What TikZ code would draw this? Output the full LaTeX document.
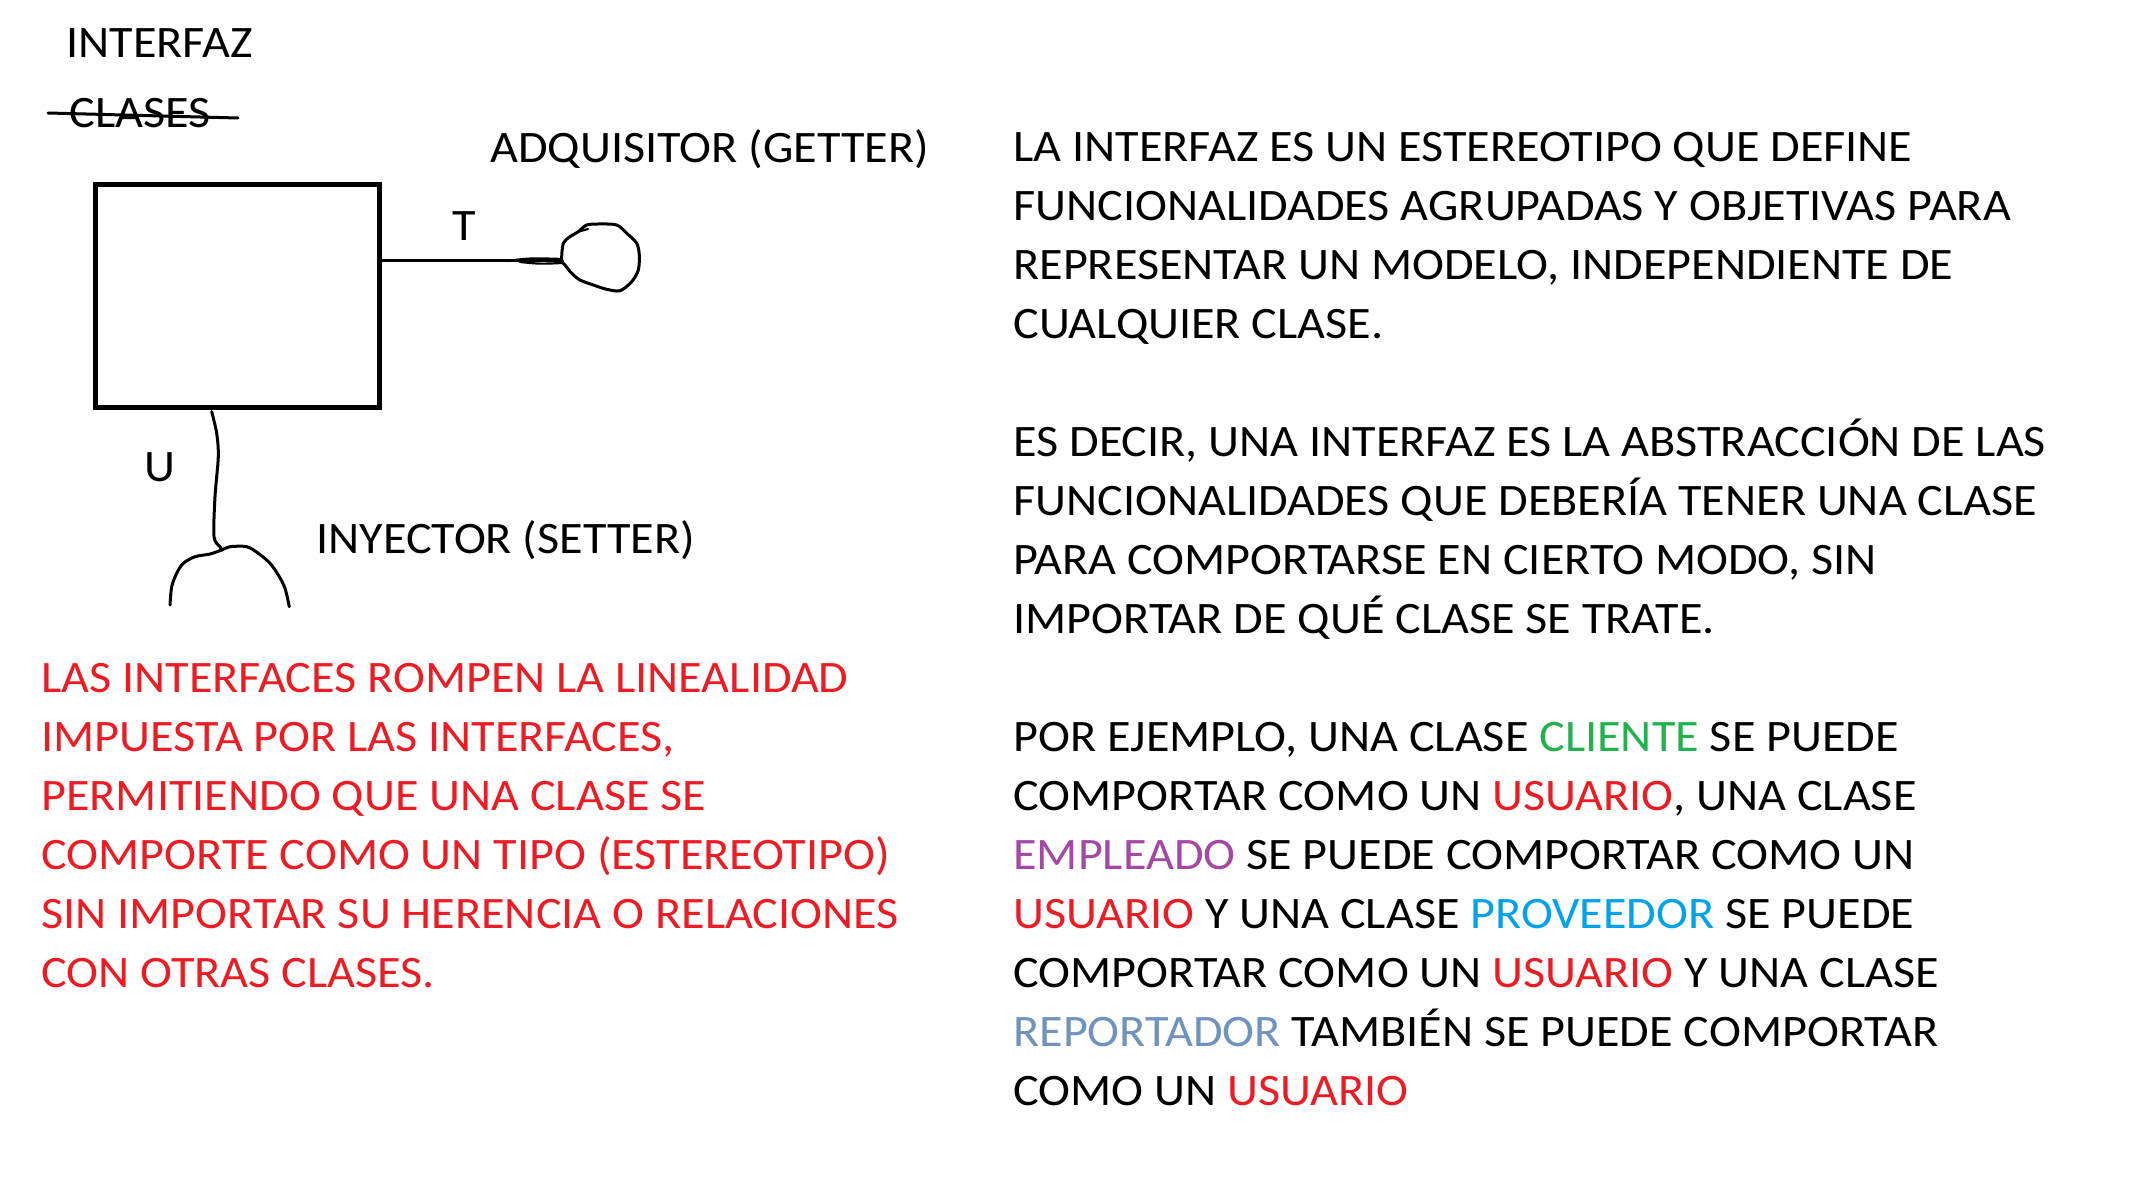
\documentclass[tikz,border=0pt]{standalone}
\usepackage{fontspec}
\setmainfont{Carlito}[FakeStretch=1.07]
\definecolor{pred}{RGB}{237,28,36}
\definecolor{pgreen}{RGB}{34,177,76}
\definecolor{ppurple}{RGB}{163,73,164}
\definecolor{pblue}{RGB}{0,162,232}
\definecolor{pgray}{RGB}{112,146,190}
\begin{document}
\begin{tikzpicture}[x=0.5pt,y=-0.5pt,
  txt/.style={anchor=base west,inner sep=0pt,font=\fontsize{22.5pt}{29.5pt}\selectfont},
  rtxt/.style={txt,text=pred},
  ink/.style={line width=1.5pt,line cap=round,line join=round},
  boxstyle/.style={draw,line width=2.5pt,inner sep=0pt,minimum width=142pt,minimum height=111.5pt}]
\useasboundingbox[fill=white] (0,0) rectangle (2153,1192);
% left labels
\node[txt] (interfaz) at (66,58) {INTERFAZ};
\node[txt] (clases) at (69,128) {CLASES};
\draw[ink] (48,113) -- (238,118);
\node[txt] (getterlbl) at (490,163) {ADQUISITOR (GETTER)};
\node[txt] (setterlbl) at (316,553) {INYECTOR (SETTER)};
\node[txt] (tlbl) at (452,241) {T};
\node[txt] (ulbl) at (144,481) {U};
% class box
\node[boxstyle] (iface) at (237,296) {};
% getter
\coordinate (gj) at (562,261);
\draw[ink] (iface.east |- gj) -- (gj);
\draw[ink,line width=1.1pt] (507,261) .. controls (530,258) .. (562,259);
\draw[ink,line width=1.1pt] (520,262) .. controls (540,264) .. (562,263);
\draw[ink] plot[smooth cycle,tension=0.5] coordinates {(561.7,260) (563.3,243.3) (570,236.7) (578.3,231.7) (586.7,225) (600,224) (616.7,225) (626.7,233.3) (636.7,243.3) (639.3,255) (638.3,270) (631.7,281.7) (620,290.7) (606.7,289.3) (593.3,285) (580,280) (571.7,273.3) (565,265)};
\draw[ink,line width=1.1pt] (578.3,231.7) -- (588,229);
% setter
\coordinate (sj) at (222,550);
\draw[ink] plot[smooth,tension=0.5] coordinates {(211.7,411.7) (216.7,433.3) (218.3,456.7) (215,496.7) (214,536.7) (220,546.7) (222,550)};
\draw[ink] plot[smooth,tension=0.5] coordinates {(170,605) (171.7,586.7) (176.7,573.3) (183.3,563.3) (195,556.7) (210,554) (221.7,550) (230,546.7) (246.7,546.7) (258.3,553.3) (270,563.3) (278.3,575) (285,588.3) (289.3,606.7)};
% red paragraph
\node[rtxt] (r1) at (41,692.4) {LAS INTERFACES ROMPEN LA LINEALIDAD};
\node[rtxt] (r2) at (41,751.4) {IMPUESTA POR LAS INTERFACES,};
\node[rtxt] (r3) at (41,810.4) {PERMITIENDO QUE UNA CLASE SE};
\node[rtxt] (r4) at (41,869.3) {COMPORTE COMO UN TIPO (ESTEREOTIPO)};
\node[rtxt] (r5) at (41,928.3) {SIN IMPORTAR SU HERENCIA O RELACIONES};
\node[rtxt] (r6) at (41,987.3) {CON OTRAS CLASES.};
% right column
\node[txt] (a1) at (1013,161.7) {LA INTERFAZ ES UN ESTEREOTIPO QUE DEFINE};
\node[txt] (a2) at (1013,220.7) {FUNCIONALIDADES AGRUPADAS Y OBJETIVAS PARA};
\node[txt] (a3) at (1013,279.6) {REPRESENTAR UN MODELO, INDEPENDIENTE DE};
\node[txt] (a4) at (1013,338.6) {CUALQUIER CLASE.};
\node[txt] (b1) at (1013,456.5) {ES DECIR, UNA INTERFAZ ES LA ABSTRACCIÓN DE LAS};
\node[txt] (b2) at (1013,515.5) {FUNCIONALIDADES QUE DEBERÍA TENER UNA CLASE};
\node[txt] (b3) at (1013,574.5) {PARA COMPORTARSE EN CIERTO MODO, SIN};
\node[txt] (b4) at (1013,633.5) {IMPORTAR DE QUÉ CLASE SE TRATE.};
\node[txt] (c1) at (1013,751.4) {POR EJEMPLO, UNA CLASE \textcolor{pgreen}{CLIENTE} SE PUEDE};
\node[txt] (c2) at (1013,810.4) {COMPORTAR COMO UN \textcolor{pred}{USUARIO}, UNA CLASE};
\node[txt] (c3) at (1013,869.3) {\textcolor{ppurple}{EMPLEADO} SE PUEDE COMPORTAR COMO UN};
\node[txt] (c4) at (1013,928.3) {\textcolor{pred}{USUARIO} Y UNA CLASE \textcolor{pblue}{PROVEEDOR} SE PUEDE};
\node[txt] (c5) at (1013,987.3) {COMPORTAR COMO UN \textcolor{pred}{USUARIO} Y UNA CLASE};
\node[txt] (c6) at (1013,1046.2) {\textcolor{pgray}{REPORTADOR} TAMBIÉN SE PUEDE COMPORTAR};
\node[txt] (c7) at (1013,1105.2) {COMO UN \textcolor{pred}{USUARIO}};
\end{tikzpicture}
\end{document}
